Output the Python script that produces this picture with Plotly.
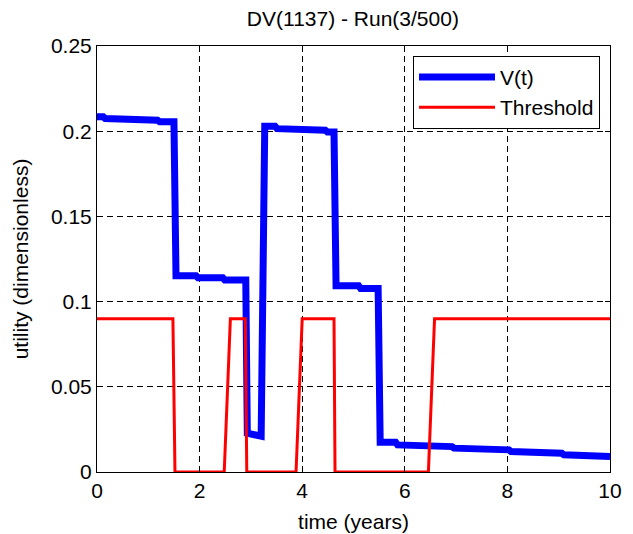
import plotly.graph_objects as go

# V(t) series (time in years, utility)
v_time = [0, 0.12, 0.16, 0.74, 0.78, 1.18, 1.22, 1.5, 1.54, 1.93, 1.97, 2.45, 2.49,
          2.9, 2.93, 3.05, 3.2, 3.27, 3.47, 3.51, 3.92, 3.96, 4.45, 4.49, 4.62, 4.66,
          5.1, 5.14, 5.48, 5.52, 5.82, 5.86, 6.4, 6.44, 6.92, 6.96, 7.48, 7.52, 8.03,
          8.07, 8.55, 8.59, 9.06, 9.1, 9.62, 9.66, 10]
v_value = [0.2085, 0.2085, 0.2074, 0.2074, 0.2064, 0.2064, 0.2055, 0.2055, 0.1152,
           0.1152, 0.1140, 0.1140, 0.1127, 0.1127, 0.0228, 0.0222, 0.0210, 0.2029,
           0.2029, 0.2015, 0.2015, 0.2006, 0.2006, 0.1996, 0.1996, 0.1093, 0.1093,
           0.1077, 0.1077, 0.0175, 0.0175, 0.0159, 0.0159, 0.0149, 0.0149, 0.0140,
           0.0140, 0.0130, 0.0130, 0.0120, 0.0120, 0.0110, 0.0110, 0.0101, 0.0101,
           0.0091, 0.0091]

# Threshold series
th_time = [0, 1.48, 1.52, 2.48, 2.6, 2.89, 2.92, 3.88, 4.0, 4.62, 4.64, 6.46, 6.58, 10]
th_value = [0.09, 0.09, 0, 0, 0.09, 0.09, 0, 0, 0.09, 0.09, 0, 0, 0.09, 0.09]

x_ticks = [0, 2, 4, 6, 8, 10]
y_ticks = [0, 0.05, 0.1, 0.15, 0.2, 0.25]
y_tick_labels = ["0", "0.05", "0.1", "0.15", "0.2", "0.25"]

FONT = "Liberation Sans, Arial, Helvetica, sans-serif"

fig = go.Figure()
fig.add_trace(go.Scatter(x=v_time, y=v_value, mode="lines", name="V(t)",
                         line=dict(color="#0000ff", width=7)))
fig.add_trace(go.Scatter(x=th_time, y=th_value, mode="lines", name="Threshold",
                         line=dict(color="#ff0000", width=3)))

axis_common = dict(showline=True, linecolor="black", linewidth=1, mirror="allticks",
                   ticks="inside", ticklen=5, tickcolor="black", automargin=False,
                   showgrid=True, gridcolor="black", gridwidth=1, griddash="6px,4px",
                   zeroline=False, tickfont=dict(size=21, color="black", family=FONT))

fig.update_xaxes(range=[0, 10], tickvals=x_ticks,
                 title=dict(text="time (years)", font=dict(size=21, color="black", family=FONT), standoff=13),
                 **axis_common)
fig.update_yaxes(range=[0, 0.25], tickvals=y_ticks, ticktext=y_tick_labels,
                 title=dict(text="utility (dimensionless)", font=dict(size=21, color="black", family=FONT), standoff=16),
                 **axis_common)

fig.update_layout(
    width=633, height=534,
    margin=dict(l=97, r=23, t=46, b=62),
    paper_bgcolor="white", plot_bgcolor="white",
    font=dict(family=FONT, size=21, color="black"),
    title=dict(text="DV(1137) - Run(3/500)", x=0.5575, xanchor="center", y=0.965, yanchor="middle",
               font=dict(size=21, color="black", family=FONT)),
    legend=dict(x=0.9805, y=0.977, xanchor="right", yanchor="top",
                bgcolor="white", bordercolor="black", borderwidth=1,
                font=dict(size=21, color="black", family=FONT),
                itemwidth=76, tracegroupgap=0),
    showlegend=True,
)

fig.write_html("out.html", config={"displayModeBar": False},
               post_script="document.body.style.margin='0';")
